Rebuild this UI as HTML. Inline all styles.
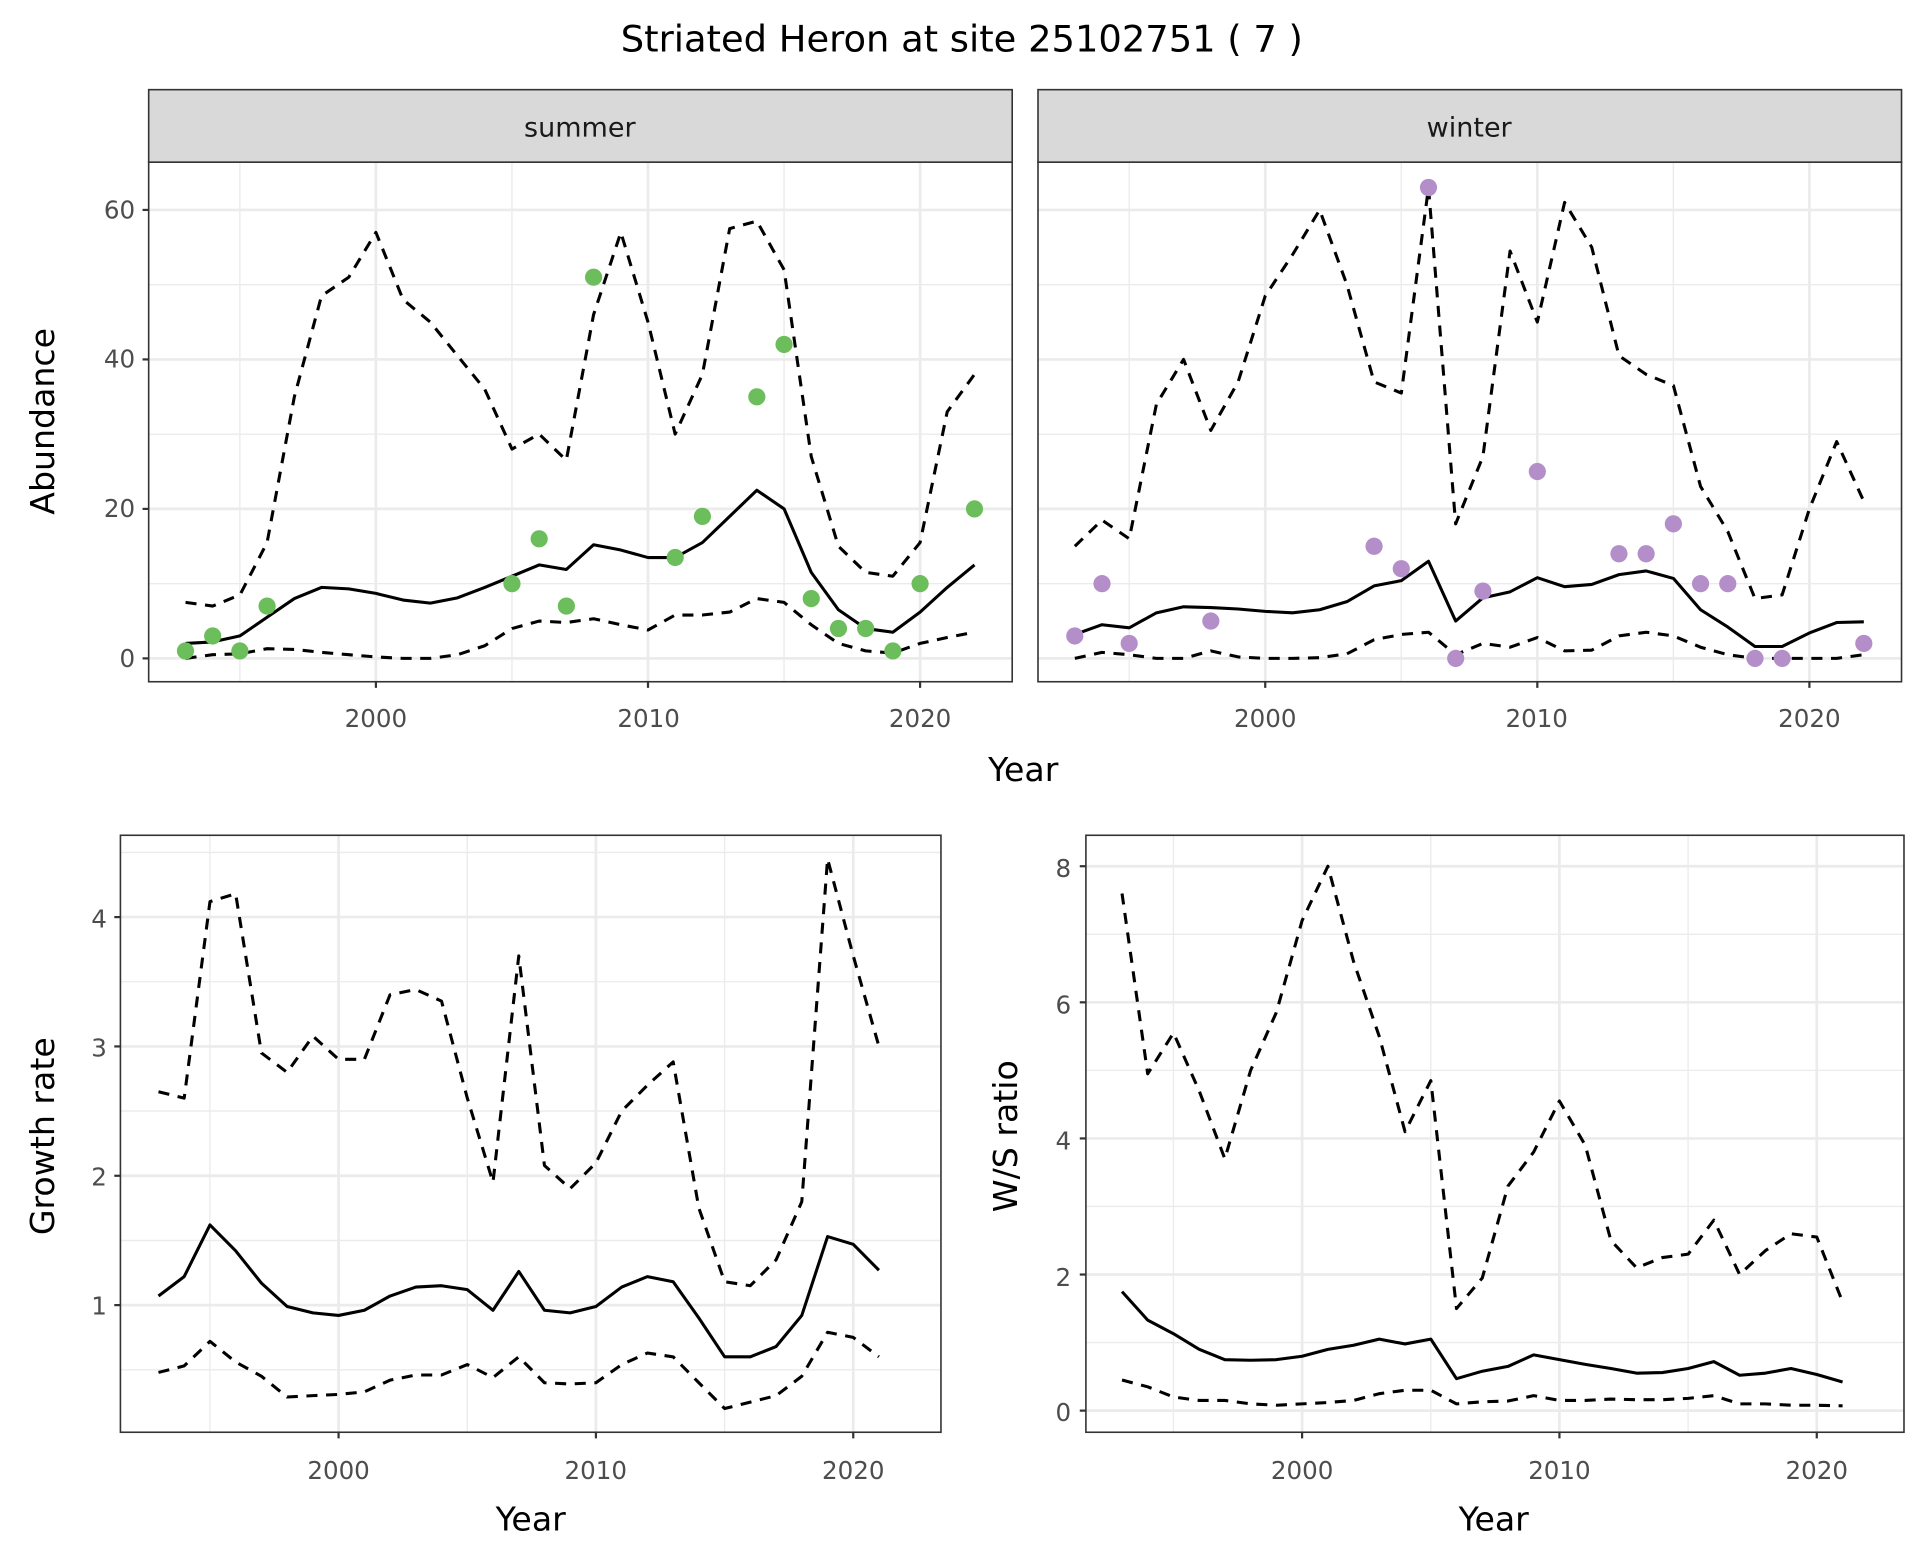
<!DOCTYPE html>
<html><head><meta charset="utf-8"><style>html,body{margin:0;padding:0;background:#fff}svg{display:block}text{font-family:"DejaVu Sans","Liberation Sans",sans-serif}</style></head>
<body>
<svg id="s" width="1920" height="1560" viewBox="0 0 1563 1270" xmlns="http://www.w3.org/2000/svg">
<rect width="1563" height="1270" fill="#fff"/>
<g id="grids"></g>
<g id="series"></g>
<text x="783" y="42" font-size="30" text-anchor="middle" fill="#000">Striated Heron at site 25102751 ( 7 )</text>
<rect x="121" y="73" width="703" height="59" fill="#d9d9d9" stroke="#333" stroke-width="1.3"/>
<rect x="845" y="73" width="703" height="59" fill="#d9d9d9" stroke="#333" stroke-width="1.3"/>
<text x="472" y="111" font-size="22" text-anchor="middle" fill="#1a1a1a">summer</text>
<text x="1196" y="111" font-size="22" text-anchor="middle" fill="#1a1a1a">winter</text>
<g font-size="20" fill="#4d4d4d" text-anchor="end">
<text x="110" y="178">60</text><text x="110" y="299">40</text><text x="110" y="421">20</text><text x="110" y="543">0</text>
<text x="87" y="755">4</text><text x="87" y="860">3</text><text x="87" y="965">2</text><text x="87" y="1070">1</text>
<text x="872" y="714">8</text><text x="872" y="825">6</text><text x="872" y="936">4</text><text x="872" y="1047">2</text><text x="872" y="1157">0</text>
</g>
<g font-size="20" fill="#4d4d4d" text-anchor="middle">
<text x="306" y="592">2000</text><text x="528" y="592">2010</text><text x="749" y="592">2020</text>
<text x="1030" y="592">2000</text><text x="1251" y="592">2010</text><text x="1473" y="592">2020</text>
<text x="275.6" y="1204">2000</text><text x="485" y="1204">2010</text><text x="694.6" y="1204">2020</text>
<text x="1060" y="1204">2000</text><text x="1269.5" y="1204">2010</text><text x="1479" y="1204">2020</text>
</g>
<g font-size="27" fill="#000" text-anchor="middle">
<text x="833" y="636">Year</text>
<text x="432" y="1246">Year</text>
<text x="1216" y="1246">Year</text>
<text transform="translate(44,343) rotate(-90)">Abundance</text>
<text transform="translate(44,925) rotate(-90)">Growth rate</text>
<text transform="translate(828,925) rotate(-90)">W/S ratio</text>
</g>
</svg>
<script>
var NS="http://www.w3.org/2000/svg";
function el(p,t,a){var e=document.createElementNS(NS,t);for(var k in a)e.setAttribute(k,a[k]);p.appendChild(e);return e;}
var G=document.getElementById('grids'),S=document.getElementById('series');
function yrs(n){var a=[];for(var i=0;i<n;i++)a.push(1993+i);return a;}
function panel(P){
 var fx=function(v){return P.x0+(v-2000)*P.xs;}, fy=function(v){return P.y0-v*P.ys;};
 el(G,'rect',{x:P.l,y:P.t,width:P.r-P.l,height:P.b-P.t,fill:'#fff'});
 P.xmin.forEach(function(v){el(G,'line',{x1:fx(v),x2:fx(v),y1:P.t,y2:P.b,stroke:'#ebebeb','stroke-width':1.1});});
 P.ymin.forEach(function(v){el(G,'line',{y1:fy(v),y2:fy(v),x1:P.l,x2:P.r,stroke:'#ebebeb','stroke-width':1.1});});
 P.xmaj.forEach(function(v){el(G,'line',{x1:fx(v),x2:fx(v),y1:P.t,y2:P.b,stroke:'#ebebeb','stroke-width':2.2});
   el(G,'line',{x1:fx(v),x2:fx(v),y1:P.b,y2:P.b+5,stroke:'#333','stroke-width':1.8});});
 P.ymaj.forEach(function(v){el(G,'line',{y1:fy(v),y2:fy(v),x1:P.l,x2:P.r,stroke:'#ebebeb','stroke-width':2.2});
   if(P.ytick) el(G,'line',{y1:fy(v),y2:fy(v),x1:P.l-5,x2:P.l,stroke:'#333','stroke-width':1.8});});
 function line(d,dash){var y=yrs(d.length);var s=d.map(function(v,i){return (i?'L':'M')+fx(y[i]).toFixed(1)+' '+fy(v).toFixed(1);}).join('');
   var a={d:s,fill:'none',stroke:'#000','stroke-width':2.5,'stroke-linejoin':'round'};if(dash)a['stroke-dasharray']='9 7';el(S,'path',a);}
 line(P.up,1);line(P.lo,1);line(P.mid,0);
 if(P.pts)P.pts.forEach(function(p){el(S,'circle',{cx:fx(p[0]),cy:fy(p[1]),r:7,fill:P.col});});
 el(S,'rect',{x:P.l,y:P.t,width:P.r-P.l,height:P.b-P.t,fill:'none',stroke:'#333','stroke-width':1.3});
}
var ys=121.7/20;
panel({l:121,r:824,t:132,b:555,x0:306,xs:22.15,y0:536,ys:ys,xmaj:[2000,2010,2020],xmin:[1995,2005,2015],ymaj:[0,20,40,60],ymin:[10,30,50],ytick:1,
 mid:[2,2.2,3,5.5,8,9.5,9.3,8.7,7.8,7.4,8.1,9.5,11,12.5,11.9,15.2,14.5,13.5,13.5,15.5,19,22.5,20,11.5,6.5,4,3.5,6.2,9.5,12.5],
 up:[7.5,7,8.5,15.5,35,48.5,51,57,48,45,40.5,36,28,30,26.5,46,57,45,30,38,57.5,58.5,52,27,15,11.5,11,15.5,33,38],
 lo:[0,0.5,0.6,1.3,1.2,0.8,0.5,0.2,0,0,0.5,1.7,4,5,4.8,5.3,4.5,3.8,5.8,5.8,6.2,8,7.5,4.5,2,1,0.7,2,2.8,3.5],
 col:'#6cbd5b',pts:[[1993,1],[1994,3],[1995,1],[1996,7],[2005,10],[2006,16],[2007,7],[2008,51],[2011,13.5],[2012,19],[2014,35],[2015,42],[2016,8],[2017,4],[2018,4],[2019,1],[2020,10],[2022,20]]});
panel({l:845,r:1548,t:132,b:555,x0:1030,xs:22.15,y0:536,ys:ys,xmaj:[2000,2010,2020],xmin:[1995,2005,2015],ymaj:[0,20,40,60],ymin:[10,30,50],ytick:0,
 mid:[3.2,4.5,4.1,6.1,6.9,6.8,6.6,6.3,6.1,6.5,7.6,9.7,10.4,13,5,8.1,8.9,10.8,9.6,9.9,11.2,11.7,10.7,6.5,4.2,1.6,1.6,3.4,4.8,4.9],
 up:[15,18.5,16,34,40,30.5,37,48.5,54,60,50,37,35.5,63,18,27,54.5,45,61,55,40.5,38,36.5,23,17,8,8.5,20,29,21],
 lo:[0,0.8,0.5,0,0,1,0.2,0,0,0.1,0.6,2.5,3.2,3.5,0.5,2,1.5,2.8,1,1.1,3,3.5,3,1.5,0.5,0,0,0,0,0.5],
 col:'#b48ec8',pts:[[1993,3],[1994,10],[1995,2],[1998,5],[2004,15],[2005,12],[2006,63],[2007,0],[2008,9],[2010,25],[2013,14],[2014,14],[2015,18],[2016,10],[2017,10],[2018,0],[2019,0],[2022,2]]});
panel({l:98,r:766,t:680,b:1166,x0:275.6,xs:20.95,y0:746.6+4*105.3,ys:105.3,xmaj:[2000,2010,2020],xmin:[1995,2005,2015],ymaj:[1,2,3,4],ymin:[0.5,1.5,2.5,3.5,4.5],ytick:1,
 mid:[1.07,1.22,1.62,1.42,1.17,0.99,0.94,0.92,0.96,1.07,1.14,1.15,1.12,0.96,1.26,0.96,0.94,0.99,1.14,1.22,1.18,0.9,0.6,0.6,0.68,0.92,1.53,1.47,1.27],
 up:[2.65,2.6,4.12,4.18,2.95,2.8,3.08,2.9,2.9,3.4,3.44,3.35,2.6,1.95,3.7,2.08,1.9,2.1,2.5,2.7,2.88,1.75,1.18,1.15,1.35,1.8,4.45,3.7,3.0],
 lo:[0.48,0.53,0.72,0.56,0.45,0.29,0.3,0.31,0.33,0.42,0.46,0.46,0.54,0.44,0.6,0.4,0.39,0.4,0.54,0.63,0.6,0.4,0.2,0.25,0.3,0.45,0.79,0.75,0.6]});
panel({l:884,r:1550,t:680,b:1166,x0:1060,xs:20.95,y0:1148.4,ys:55.4,xmaj:[2000,2010,2020],xmin:[1995,2005,2015],ymaj:[0,2,4,6,8],ymin:[1,3,5,7],ytick:1,
 mid:[1.75,1.33,1.13,0.9,0.75,0.74,0.75,0.8,0.9,0.96,1.05,0.98,1.05,0.47,0.58,0.65,0.82,0.75,0.68,0.62,0.55,0.56,0.62,0.72,0.52,0.55,0.62,0.53,0.42],
 up:[7.6,4.95,5.55,4.7,3.7,5.0,5.85,7.2,8.0,6.6,5.5,4.1,4.85,1.5,1.95,3.3,3.8,4.55,3.9,2.5,2.1,2.25,2.3,2.8,2.0,2.35,2.6,2.55,1.6],
 lo:[0.45,0.35,0.2,0.15,0.15,0.1,0.08,0.1,0.12,0.15,0.25,0.3,0.3,0.1,0.13,0.14,0.22,0.15,0.15,0.17,0.16,0.16,0.18,0.22,0.1,0.1,0.08,0.08,0.07]});
</script>
</body></html>
